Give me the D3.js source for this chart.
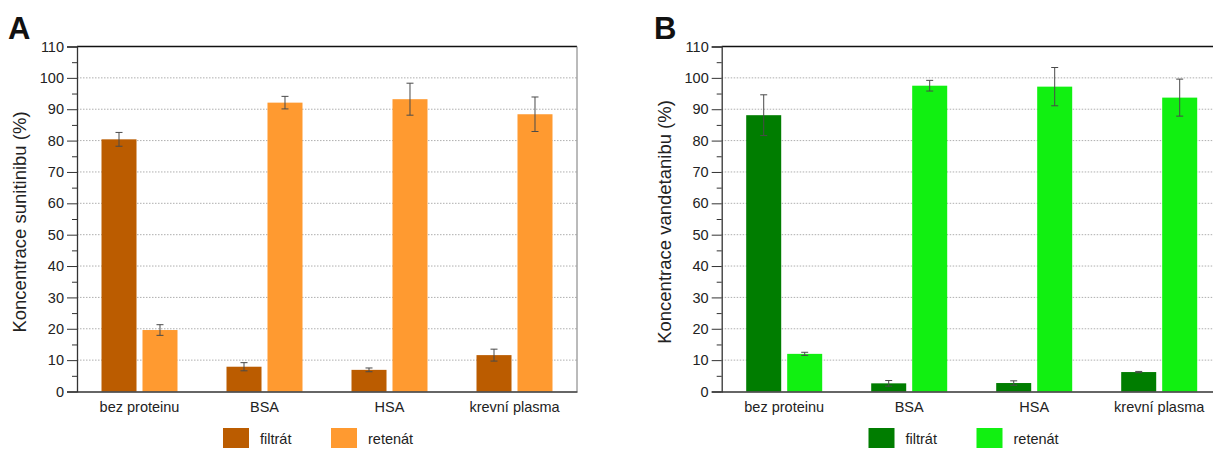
<!DOCTYPE html>
<html>
<head>
<meta charset="utf-8">
<script src="https://cdn.jsdelivr.net/npm/d3@7"></script>
<style>
  body { margin: 0; background: #fff; }
  svg { display: block; font-family: "Liberation Sans", Arial, sans-serif; }
</style>
</head>
<body>
<div id="container"></div>
<script>
// data
const categories = ["bez proteinu", "BSA", "HSA", "krevní plasma"];
const series = ["filtrát", "retenát"];

const sunitinibFiltrat = [80.4, 7.9, 6.9, 11.6];
const sunitinibFiltratErr = [2.2, 1.3, 0.6, 1.9];
const sunitinibRetenat = [19.6, 92.1, 93.2, 88.4];
const sunitinibRetenatErr = [1.7, 2.0, 5.1, 5.5];

const vandetanibFiltrat = [88.1, 2.6, 2.7, 6.2];
const vandetanibFiltratErr = [6.5, 0.9, 0.7, 0.2];
const vandetanibRetenat = [12.0, 97.5, 97.2, 93.7];
const vandetanibRetenatErr = [0.5, 1.7, 6.1, 5.9];

const yTicks = [0, 10, 20, 30, 40, 50, 60, 70, 80, 90, 100, 110];

const widthSVG = 1213, heightSVG = 449;

const svg = d3.select('#container')
  .append('svg')
  .attr('width', widthSVG)
  .attr('height', heightSVG);

// one panel = one grouped bar chart
function drawPanel(opt) {
  const w = 500, h = 345;
  const g = svg.append('g')
    .attr('transform', `translate(${opt.left}, 46.5)`);

  const x0 = d3.scaleBand().domain(categories).range([0, w]);
  const x1 = d3.scaleBand().domain(series)
    .range([x0.bandwidth() / 2 - 38, x0.bandwidth() / 2 + 38])
    .paddingInner(0.146);
  const y = d3.scaleLinear().domain([0, 110]).range([h, 0]);

  // dotted grid
  g.selectAll('line.grid')
    .data(yTicks.filter(d => d > 0 && d < 110))
    .enter().append('line')
    .attr('class', 'grid')
    .attr('x1', 0).attr('x2', w)
    .attr('y1', d => y(d)).attr('y2', d => y(d))
    .attr('stroke', '#9a9a9a')
    .attr('stroke-width', 0.8)
    .attr('stroke-dasharray', '1.5,1.5');

  // bars
  const rows = categories.map((c, i) => [
    { cat: c, s: series[0], v: opt.filtrat[i], e: opt.filtratErr[i], col: opt.colors[0] },
    { cat: c, s: series[1], v: opt.retenat[i], e: opt.retenatErr[i], col: opt.colors[1] }
  ]).flat();

  g.selectAll('rect.bar')
    .data(rows)
    .enter().append('rect')
    .attr('class', 'bar')
    .attr('x', d => x0(d.cat) + x1(d.s))
    .attr('width', x1.bandwidth())
    .attr('y', d => y(d.v))
    .attr('height', d => y(0) - y(d.v))
    .attr('fill', d => d.col);

  // error bars
  const eb = g.selectAll('g.err')
    .data(rows)
    .enter().append('g')
    .attr('class', 'err')
    .attr('transform', d => `translate(${x0(d.cat) + x1(d.s) + x1.bandwidth() / 2}, 0)`)
    .attr('stroke', '#4a4a4a')
    .attr('stroke-width', 1);
  eb.append('line')
    .attr('y1', d => y(d.v - d.e)).attr('y2', d => y(d.v + d.e));
  eb.append('line')
    .attr('x1', -3.5).attr('x2', 3.5)
    .attr('y1', d => y(d.v + d.e)).attr('y2', d => y(d.v + d.e));
  eb.append('line')
    .attr('x1', -3.5).attr('x2', 3.5)
    .attr('y1', d => y(d.v - d.e)).attr('y2', d => y(d.v - d.e));

  // frame: top black, right grey
  g.append('line').attr('x1', 0).attr('x2', w).attr('y1', 0).attr('y2', 0)
    .attr('stroke', '#111').attr('stroke-width', 1.3);
  g.append('line').attr('x1', w).attr('x2', w).attr('y1', 0).attr('y2', h)
    .attr('stroke', '#777').attr('stroke-width', 1);

  // y axis with minor ticks
  const yAxis = g.append('g')
    .call(d3.axisLeft(y).tickValues(yTicks).tickSize(10).tickPadding(3));
  yAxis.select('.domain').attr('stroke', '#333').attr('stroke-width', 1.3);
  yAxis.selectAll('.tick line').attr('stroke', '#333');
  yAxis.selectAll('text').attr('font-size', 14.5).attr('fill', '#222');
  g.append('g')
    .call(d3.axisLeft(y).tickValues(d3.range(5, 110, 10)).tickSize(5).tickFormat(''))
    .call(a => a.select('.domain').remove())
    .selectAll('.tick line').attr('stroke', '#333');

  // x axis
  const xAxis = g.append('g')
    .attr('transform', `translate(0, ${h})`)
    .call(d3.axisBottom(x0).tickSize(0).tickPadding(10));
  xAxis.select('.domain').attr('stroke', '#333').attr('stroke-width', 1.3);
  xAxis.selectAll('text').attr('font-size', 14.5).attr('fill', '#222');

  // y title
  svg.append('text')
    .attr('transform', `translate(${opt.titleX}, 222) rotate(-90)`)
    .attr('text-anchor', 'middle')
    .attr('font-size', 18.5)
    .attr('fill', '#222')
    .text(opt.yTitle);

  // panel letter
  svg.append('text')
    .attr('x', opt.letterX).attr('y', 39)
    .attr('font-size', 31)
    .attr('font-weight', 'bold')
    .attr('fill', '#111')
    .text(opt.letter);

  // legend
  const legend = svg.append('g')
    .attr('transform', `translate(${opt.legendX}, 428)`);
  const items = legend.selectAll('g')
    .data(series)
    .enter().append('g')
    .attr('transform', (d, i) => `translate(${i * 108}, 0)`);
  items.append('rect')
    .attr('width', 26).attr('height', 20)
    .attr('fill', (d, i) => opt.colors[i]);
  items.append('text')
    .attr('x', 37).attr('y', 16)
    .attr('font-size', 14.5)
    .attr('fill', '#222')
    .text(d => d);
}

drawPanel({
  left: 77, titleX: 26, letterX: 8, letter: 'A', legendX: 223,
  yTitle: 'Koncentrace sunitinibu (%)',
  filtrat: sunitinibFiltrat, filtratErr: sunitinibFiltratErr,
  retenat: sunitinibRetenat, retenatErr: sunitinibRetenatErr,
  colors: ['#bb5c00', '#ff9a30']
});

drawPanel({
  left: 721.7, titleX: 671, letterX: 654, letter: 'B', legendX: 868.5,
  yTitle: 'Koncentrace vandetanibu (%)',
  filtrat: vandetanibFiltrat, filtratErr: vandetanibFiltratErr,
  retenat: vandetanibRetenat, retenatErr: vandetanibRetenatErr,
  colors: ['#007d00', '#11f011']
});
</script>
</body>
</html>
